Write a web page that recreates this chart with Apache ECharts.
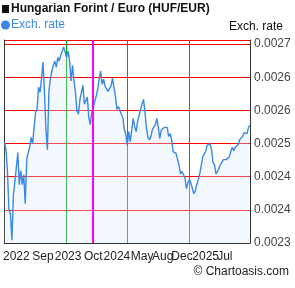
<!DOCTYPE html>
<html>
<head>
<meta charset="utf-8">
<script src="https://cdn.jsdelivr.net/npm/echarts@6/dist/echarts.min.js"></script>
<style>
  html, body { margin: 0; padding: 0; background: #fff; }
  #mychart { width: 295px; height: 288px; }
</style>
</head>
<body>
<div id="mychart"></div>
<script>
// chart data
var chartTitle = 'Hungarian Forint / Euro (HUF/EUR)';
var seriesName = 'Exch. rate';
var rates = [
  0.002512, 0.002497, 0.002451, 0.002370, 0.002362, 0.002306, 0.002402, 0.002429, 0.002427, 0.002491,
  0.002423, 0.002453, 0.002423, 0.002444, 0.002383, 0.002476, 0.002491, 0.002502, 0.002523, 0.002510,
  0.002544, 0.002576, 0.002582, 0.002629, 0.002618, 0.002646, 0.002682, 0.002620, 0.002540, 0.002497,
  0.002620, 0.002646, 0.002663, 0.002675, 0.002684, 0.002671, 0.002692, 0.002684, 0.002697, 0.002705,
  0.002714, 0.002718, 0.002692, 0.002705, 0.002684, 0.002642, 0.002675, 0.002642, 0.002618, 0.002578,
  0.002572, 0.002603, 0.002618, 0.002633, 0.002593, 0.002593, 0.002608, 0.002565, 0.002550, 0.002576,
  0.002584, 0.002599, 0.002610, 0.002625, 0.002646, 0.002663, 0.002635, 0.002646, 0.002631, 0.002627,
  0.002620, 0.002618, 0.002631, 0.002648, 0.002644, 0.002610, 0.002582, 0.002588, 0.002586, 0.002572,
  0.002565, 0.002540, 0.002529, 0.002506, 0.002535, 0.002514, 0.002538, 0.002563, 0.002546, 0.002535,
  0.002557, 0.002569, 0.002582, 0.002593, 0.002603, 0.002576, 0.002542, 0.002523, 0.002518, 0.002525,
  0.002540, 0.002538, 0.002550, 0.002563, 0.002544, 0.002521, 0.002538, 0.002540, 0.002544, 0.002540,
  0.002544, 0.002525, 0.002531, 0.002518, 0.002493, 0.002493, 0.002489, 0.002487, 0.002465, 0.002446,
  0.002451, 0.002444, 0.002438, 0.002415, 0.002427, 0.002434, 0.002427, 0.002427, 0.002404, 0.002410,
  0.002423, 0.002434, 0.002446, 0.002463, 0.002482, 0.002482, 0.002493, 0.002506, 0.002502, 0.002510,
  0.002497, 0.002470, 0.002465, 0.002446, 0.002451, 0.002448, 0.002465, 0.002470, 0.002476, 0.002476,
  0.002476, 0.002476, 0.002482, 0.002493, 0.002502, 0.002495, 0.002502, 0.002502, 0.002508, 0.002518,
  0.002516, 0.002525, 0.002533, 0.002529, 0.002531, 0.002544, 0.002548
];
// x labels and the data point each one sits under
var xTickText = ['2022', 'Sep', '2023', 'Oct', '2024', 'May', 'Aug', 'Dec', '2025', 'Jul'];
var xTickIndex = [8, 26, 43, 60, 76, 93, 107, 120, 136, 149];
var yTickLabels = ['0.0023', '0.0024', '0.0024', '0.0025', '0.0026', '0.0026', '0.0027'];
var yMin = 0.0023, yStep = 0.00007, yMax = 0.0027285;

var categories = rates.map(function (v, i) { return String(i); });
// vertical grid lines split the width in four
var last = rates.length - 1;
var vLines = [1, 2, 3].map(function (k) { return Math.round(last * k / 4); });
var fontFam = 'Arial, "Liberation Sans", sans-serif';
var lineColor = '#3a89e4';

var myChart = echarts.init(document.getElementById('mychart'), null, { renderer: 'canvas' });
var option = {
  animation: false,
  textStyle: { fontFamily: fontFam },
  title: [{
    text: '{sq|}{t|' + chartTitle + '}',
    left: 2, top: 3, padding: 0,
    textStyle: {
      rich: {
        sq: { width: 7, height: 8, backgroundColor: '#111' },
        t: { fontFamily: fontFam, fontWeight: 'bold', fontSize: 12, color: '#111', padding: [0, 0, 0, 2] }
      }
    }
  }, {
    text: '© Chartoasis.com',
    right: 6, top: 266, padding: 0,
    textStyle: { fontFamily: fontFam, fontWeight: 'normal', fontSize: 12, color: '#222' }
  }, {
    text: 'Exch. rate',
    right: 12, top: 21, padding: 0,
    textStyle: { fontFamily: fontFam, fontWeight: 'normal', fontSize: 12, color: '#111' }
  }],
  legend: {
    left: 1, top: 19, padding: 0,
    icon: 'circle', itemWidth: 9, itemHeight: 9,
    textStyle: { color: lineColor, fontSize: 12, fontFamily: fontFam, padding: [0, 0, 0, -4] },
    data: [seriesName]
  },
  grid: { left: 1, right: 45, top: 40, bottom: 45 },
  xAxis: {
    type: 'category',
    data: categories,
    boundaryGap: false,
    axisLine: { show: true, lineStyle: { color: '#333', width: 1 } },
    axisTick: { show: false },
    splitLine: {
      show: true,
      interval: function (idx) { return vLines.indexOf(idx) >= 0; },
      lineStyle: { color: '#00aa00', width: 1 }
    },
    axisLabel: {
      interval: 0,
      margin: 8,
      color: '#222',
      fontSize: 12,
      fontFamily: fontFam,
      hideOverlap: false,
      formatter: function (val, idx) {
        var k = xTickIndex.indexOf(idx);
        return k >= 0 ? xTickText[k] : '';
      }
    }
  },
  yAxis: [{
    type: 'value',
    position: 'right',
    min: yMin, max: yMax, interval: yStep,
    axisLine: { show: true, lineStyle: { color: '#333', width: 1 } },
    axisTick: { show: false },
    splitLine: { show: true, lineStyle: { color: '#ff0000', width: 1 } },
    axisLabel: {
      margin: 4,
      color: '#444',
      fontSize: 12,
      fontFamily: fontFam,
      showMaxLabel: false,
      formatter: function (val, idx) {
        return yTickLabels[idx] !== undefined ? yTickLabels[idx] : '';
      }
    }
  }, {
    type: 'value',
    position: 'left',
    min: yMin, max: yMax,
    axisLine: { show: true, lineStyle: { color: '#333', width: 1 } },
    axisTick: { show: false },
    axisLabel: { show: false },
    splitLine: { show: false }
  }],
  series: [{
    name: seriesName,
    type: 'line',
    data: rates,
    showSymbol: false,
    symbol: 'none',
    lineStyle: { color: lineColor, width: 1.4 },
    itemStyle: { color: lineColor },
    areaStyle: { color: 'rgba(214,234,252,0.45)' },
    markLine: {
      silent: true,
      symbol: ['none', 'none'],
      animation: false,
      label: { show: false },
      lineStyle: { color: '#ff00ff', width: 2, type: 'solid', opacity: 1 },
      data: [{ xAxis: 60 }]
    }
  }]
};
myChart.setOption(option);
</script>
</body>
</html>
